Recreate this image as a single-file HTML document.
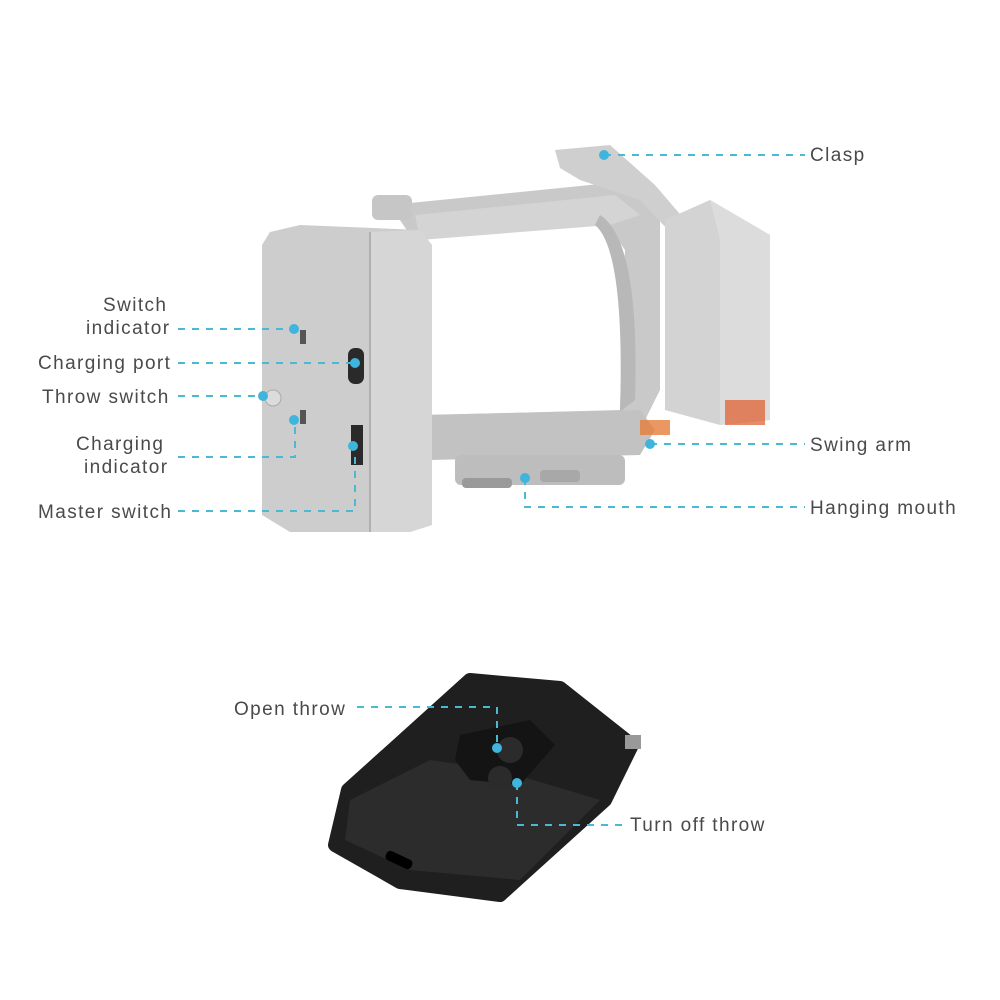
<!DOCTYPE html>
<html><head><style>
html,body{margin:0;padding:0;background:#fff;}
svg{display:block}
text{font-family:"Liberation Sans",sans-serif;font-size:19px;fill:#4a4a4a;letter-spacing:1.4px}
.l{stroke:#4bb8d6;stroke-width:2;stroke-dasharray:7,7;fill:none}
.d{fill:#3fb4dc}
</style></head><body>
<svg width="1000" height="1000" viewBox="0 0 1000 1000">
<rect width="1000" height="1000" fill="#fff"/>
<path d="M390 205 L640 180 L660 200 L660 390 L640 430 L620 450 L430 455 L430 415 L620 410 L625 250 L600 215 L410 235 Z" fill="#c9c9c9"/>
<path d="M415 215 L615 195 L640 215 L610 225 L420 240 Z" fill="#d4d4d4"/>
<path d="M600 215 Q640 240 635 400 L620 412 Q625 250 595 225 Z" fill="#b8b8b8"/>
<path d="M420 415 L640 410 L655 430 L640 455 L430 460 Z" fill="#c2c2c2"/>
<rect x="455" y="455" width="170" height="30" rx="6" fill="#bdbdbd"/>
<rect x="462" y="478" width="50" height="10" rx="4" fill="#9a9a9a"/>
<rect x="540" y="470" width="40" height="12" rx="4" fill="#a8a8a8"/>
<path d="M555 150 L610 145 L655 185 L685 220 L670 232 L640 200 L580 180 L560 168 Z" fill="#cfcfcf"/>
<rect x="372" y="195" width="40" height="25" rx="6" fill="#c6c6c6"/>
<path d="M665 220 L710 200 L770 235 L770 420 L720 425 L665 410 Z" fill="#d3d3d3"/>
<path d="M710 200 L770 235 L770 420 L720 425 L720 240 Z" fill="#dcdcdc"/>
<rect x="725" y="400" width="40" height="25" fill="#e05a2a" opacity="0.7"/>
<rect x="640" y="420" width="30" height="15" fill="#e57d3a" opacity="0.8"/>
<path d="M270 232 L300 225 L420 230 L432 245 L432 525 L410 532 L290 532 L262 515 L262 245 Z" fill="#cdcdcd"/>
<path d="M370 232 L420 230 L432 245 L432 525 L410 532 L370 532 Z" fill="#d6d6d6"/>
<line x1="370" y1="232" x2="370" y2="532" stroke="#b0b0b0" stroke-width="2"/>
<rect x="348" y="348" width="16" height="36" rx="7" fill="#2a2a2a"/>
<rect x="351" y="425" width="12" height="40" fill="#2a2a2a"/>
<rect x="300" y="330" width="6" height="14" fill="#555"/>
<rect x="300" y="410" width="6" height="14" fill="#555"/>
<circle cx="273" cy="398" r="8" fill="#dcdcdc" stroke="#aaa"/>
<path d="M470 680 L560 688 L632 745 L605 800 L500 895 L400 882 L335 845 L348 790 Z" fill="#1f1f1f" stroke="#1f1f1f" stroke-width="14" stroke-linejoin="round"/>
<path d="M350 800 L430 760 L500 770 L600 800 L520 880 L410 870 L345 840 Z" fill="#2c2c2c"/>
<path d="M460 735 L530 720 L555 745 L520 785 L470 780 L455 760 Z" fill="#141414"/>
<circle cx="510" cy="750" r="13" fill="#2b2b2b"/>
<circle cx="500" cy="778" r="12" fill="#2b2b2b"/>
<rect x="385" y="855" width="28" height="10" rx="4" fill="#000" transform="rotate(25 399 860)"/>
<rect x="625" y="735" width="16" height="14" fill="#999"/>
<text x="810" y="161">Clasp</text>
<text x="103" y="311">Switch</text>
<text x="86" y="334">indicator</text>
<text x="38" y="369">Charging port</text>
<text x="42" y="403">Throw switch</text>
<text x="76" y="450">Charging</text>
<text x="84" y="473">indicator</text>
<text x="38" y="518">Master switch</text>
<text x="810" y="451">Swing arm</text>
<text x="810" y="514">Hanging mouth</text>
<text x="234" y="715">Open throw</text>
<text x="630" y="831">Turn off throw</text>
<path class="l" d="M604 155 H805"/>
<path class="l" d="M178 329 H295"/>
<path class="l" d="M178 363 H355"/>
<path class="l" d="M178 396 H265"/>
<path class="l" d="M178 457 H295 V420"/>
<path class="l" d="M178 511 H355 V445"/>
<path class="l" d="M650 444 H805"/>
<path class="l" d="M525 478 V507 H805"/>
<path class="l" d="M357 707 H497 V748"/>
<path class="l" d="M517 783 V825 H625"/>
<circle class="d" cx="604" cy="155" r="5"/>
<circle class="d" cx="294" cy="329" r="5"/>
<circle class="d" cx="355" cy="363" r="5"/>
<circle class="d" cx="263" cy="396" r="5"/>
<circle class="d" cx="294" cy="420" r="5"/>
<circle class="d" cx="353" cy="446" r="5"/>
<circle class="d" cx="650" cy="444" r="5"/>
<circle class="d" cx="525" cy="478" r="5"/>
<circle class="d" cx="497" cy="748" r="5"/>
<circle class="d" cx="517" cy="783" r="5"/>
</svg>
</body></html>
